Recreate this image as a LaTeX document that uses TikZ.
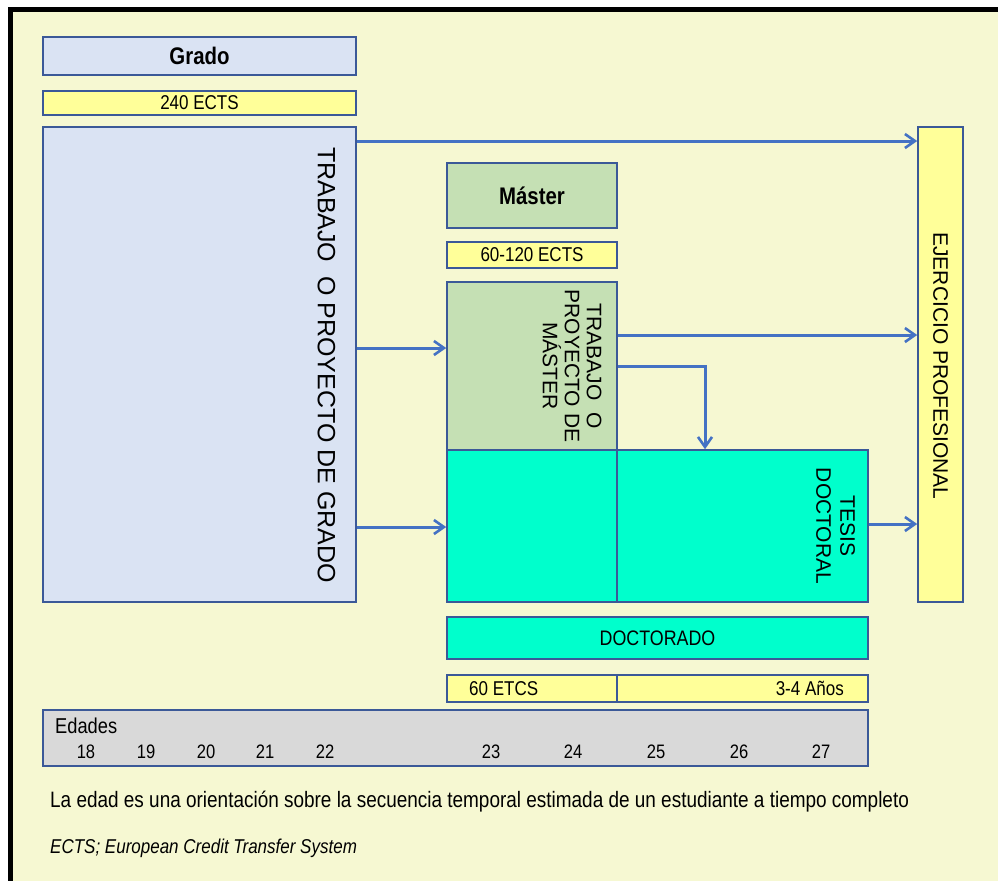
\documentclass[tikz,border=0pt]{standalone}
\usepackage{fontspec}
\setmainfont{Liberation Sans}
\newfontfamily\narrowfont{Liberation Sans}[FakeStretch=0.85]
\usetikzlibrary{arrows.meta}

\definecolor{paper}{RGB}{246,248,210}
\definecolor{boxline}{RGB}{59,89,152}
\definecolor{gradoblue}{RGB}{218,227,243}
\definecolor{ectsyellow}{RGB}{255,255,153}
\definecolor{mastergreen}{RGB}{197,224,180}
\definecolor{docaqua}{RGB}{0,255,204}
\definecolor{agegray}{RGB}{217,217,217}
\definecolor{arrowblue}{RGB}{68,114,196}

\begin{document}
\begin{tikzpicture}[
    x=1pt, y=-1pt,
    box/.style    = {draw=boxline, line width=1.6pt, inner sep=0pt},
    gbox/.style   = {box, fill=gradoblue},
    ybox/.style   = {box, fill=ectsyellow},
    mbox/.style   = {box, fill=mastergreen},
    dbox/.style   = {box, fill=docaqua},
    hlab/.style   = {font=\narrowfont\fontsize{20}{24}\selectfont},
    head/.style   = {font=\narrowfont\bfseries\fontsize{24}{28}\selectfont},
    rlab/.style   = {rotate=-90, inner sep=0pt, align=center},
    note/.style   = {anchor=west, inner sep=0pt, font=\narrowfont\fontsize{22.3}{26}\selectfont},
    age/.style    = {inner sep=0pt, font=\narrowfont\fontsize{19.5}{22}\selectfont},
    arr/.style    = {-{Straight Barb[length=10pt, width=14pt, line width=2.6pt]}, line width=3pt, arrowblue},
]
\useasboundingbox (0,0) rectangle (998,881);

%% ---- Page ----
\fill[white] (0,0) rectangle (998,881);
\fill[paper] (10,10) rectangle (998,881);
\fill[black] (8,7) rectangle (998,12);
\fill[black] (8,7) rectangle (13,881);

%% ---- Grado column ----
\node[gbox, head, minimum width=313pt, minimum height=38pt]  (grado) at (199.5,56)  {Grado};
\node[ybox, hlab, minimum width=313pt, minimum height=24pt]  (gects) at (199.5,103) {240 ECTS};
\node[gbox, minimum width=313pt, minimum height=475pt]       (gtrab) at (199.5,364.5) {};
\node[rlab, font=\fontsize{25}{28}\selectfont] (gtext) at (326.5,365)
    {TRABAJO\ \ O PROYECTO DE GRADO};

%% ---- Master column ----
\node[mbox, head, minimum width=170pt, minimum height=65pt]  (master) at (532,195.5) {Máster};
\node[ybox, hlab, minimum width=170pt, minimum height=26pt]  (mects)  at (532,255)   {60-120 ECTS};
\node[mbox, minimum width=170pt, minimum height=168pt]       (mtrab)  at (532,366)   {};
\node[rlab, font=\fontsize{21}{22}\selectfont] (mtext) at (572,366)
    {TRABAJO\ \ O\\PROYECTO DE\\MÁSTER};

%% ---- Doctorado ----
\node[dbox, minimum width=170pt, minimum height=152pt]       (dleft)  at (532,526)   {};
\node[dbox, minimum width=251pt, minimum height=152pt]       (tesis)  at (742.5,526) {};
\node[rlab, font=\fontsize{21}{24}\selectfont] (ttext) at (835.5,526)
    {TESIS\\DOCTORAL};
\node[dbox, hlab, minimum width=421pt, minimum height=42pt, font=\narrowfont\fontsize{21}{24}\selectfont]
    (doct) at (657.5,638) {DOCTORADO};
\node[ybox, minimum width=170pt, minimum height=27pt]        (dects1) at (532,688.5)   {};
\node[ybox, minimum width=251pt, minimum height=27pt]        (dects2) at (742.5,688.5) {};
\node[hlab, anchor=west, inner sep=0pt] (etcs)  at (469,688.5) {60 ETCS};
\node[hlab, anchor=east, inner sep=0pt] (anios) at (844,688.5) {3-4 Años};

%% ---- Ejercicio profesional ----
\node[ybox, minimum width=45pt, minimum height=475pt]        (ejer)   at (940.5,364.5) {};
\node[rlab, font=\fontsize{21}{24}\selectfont] (etext) at (940.5,366)
    {EJERCICIO PROFESIONAL};

%% ---- Ages ----
\node[box, fill=agegray, minimum width=825pt, minimum height=56pt] (edades) at (455.5,738) {};
\node[age, anchor=west, font=\narrowfont\fontsize{21.5}{24}\selectfont] (edlab) at (55,726) {Edades};
\foreach \a/\x in {18/86, 19/146, 20/206, 21/265, 22/325, 23/491, 24/573, 25/656, 26/739, 27/821}{
    \node[age] (age\a) at (\x,752) {\a};
}

%% ---- Arrows ----
\draw[arr] (gtrab.east |- 0,141) -- (ejer.west |- 0,141);
\draw[arr] (gtrab.east |- 0,348) -- (mtrab.west |- 0,348);
\draw[arr] (gtrab.east |- 0,527) -- (dleft.west |- 0,527);
\draw[arr] (mtrab.east |- 0,335) -- (ejer.west |- 0,335);
\draw[arr] (mtrab.east) -| (705,0 |- tesis.north);
\draw[arr] (tesis.east |- 0,524) -- (ejer.west |- 0,524);

%% ---- Notes ----
\node[note] (nota1) at (50,802)
    {La edad es una orientación sobre la secuencia temporal estimada de un estudiante a tiempo completo};
\node[note, font=\narrowfont\itshape\fontsize{20}{24}\selectfont] (nota2) at (50,848)
    {ECTS; European Credit Transfer System};

\end{tikzpicture}
\end{document}
